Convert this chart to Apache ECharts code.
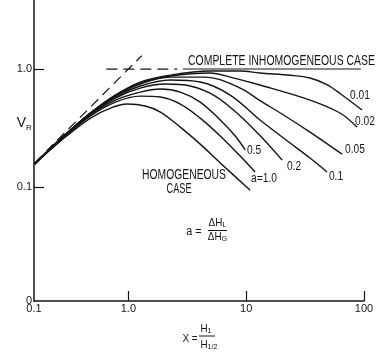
<!DOCTYPE html>
<html><head><meta charset="utf-8">
<script src="https://cdn.jsdelivr.net/npm/echarts@6/dist/echarts.min.js"></script>
<style>html,body{margin:0;padding:0;background:#fff}#c{width:385px;height:358px}</style>
</head><body><div id="c"></div>
<script>
// ---- axis ranges and tick labels ----
const xMin = 0.158, xMax = 100, yMin = 0.0108, yMax = 3.85;
const xLabelValues = [0.158, 1, 10, 100];
const xLabelTexts = ['0.1', '1.0', '10', '100'];
const xTickMarks = [1, 10, 100];
const yLabelValues = [0.0108, 0.1, 1];
const yLabelTexts = ['0', '0.1', '1.0'];
const yTickMarks = [0.1, 1];

// ---- curves (X, V_R) ----
const xHomog = [0.16, 0.265, 0.476, 0.704, 0.98, 1.39, 1.87, 2.76, 4.07, 6.02, 10.8];
const vHomog = [0.157, 0.245, 0.384, 0.467, 0.505, 0.486, 0.432, 0.322, 0.231, 0.160, 0.094];
const xA100 = [0.16, 0.265, 0.476, 0.776, 1.26, 1.87, 2.76, 4.07, 6.02, 8.89, 11.9];
const vA100 = [0.157, 0.25, 0.40, 0.525, 0.59, 0.579, 0.505, 0.384, 0.271, 0.183, 0.134];
const xA050 = [0.16, 0.265, 0.476, 0.776, 1.26, 1.87, 2.76, 4.07, 6.02, 8.07, 9.81];
const vA050 = [0.157, 0.25, 0.408, 0.546, 0.638, 0.677, 0.638, 0.525, 0.370, 0.271, 0.206];
const xA020 = [0.16, 0.265, 0.476, 0.776, 1.26, 2.06, 3.35, 5.46, 8.89, 13.7, 20.2];
const vA020 = [0.157, 0.255, 0.416, 0.568, 0.690, 0.746, 0.718, 0.590, 0.400, 0.260, 0.169];
const xA010 = [0.16, 0.265, 0.476, 0.776, 1.26, 2.27, 4.07, 7.31, 13.1, 23.6, 34.8, 48.6];
const vA010 = [0.157, 0.255, 0.424, 0.579, 0.718, 0.807, 0.776, 0.602, 0.370, 0.236, 0.176, 0.134];
const xA005 = [0.16, 0.265, 0.476, 0.776, 1.26, 2.27, 4.49, 8.89, 13.1, 21.4, 34.8, 65.1];
const vA005 = [0.157, 0.255, 0.424, 0.590, 0.746, 0.855, 0.855, 0.690, 0.54, 0.40, 0.292, 0.190];
const xA002 = [0.16, 0.265, 0.476, 0.776, 1.26, 2.27, 4.95, 7.31, 13.1, 34.8, 62.6, 87.2];
const vA002 = [0.157, 0.255, 0.424, 0.602, 0.761, 0.872, 0.925, 0.855, 0.732, 0.546, 0.424, 0.322];
const xA001 = [0.16, 0.265, 0.476, 0.776, 1.26, 2.27, 4.95, 8.89, 13.1, 24, 34.8, 48, 62.6, 96.2];
const vA001 = [0.157, 0.255, 0.424, 0.602, 0.776, 0.889, 0.962, 0.962, 0.925, 0.885, 0.84, 0.74, 0.62, 0.449];

// ---- reference lines ----
const xDiag = [0.16, 1.3];
const vDiag = [0.16, 1.3];
const xLimitDashed = [0.65, 2.6];
const vLimitDashed = [1, 1];
const xLimitSolid = [2.9, 94];
const vLimitSolid = [1, 1];

const curveNames = ['HOMOGENEOUS CASE', 'a=1.0', '0.5', '0.2', '0.1', '0.05', '0.02', '0.01'];

// ---- build ----
const INK = '#151515';
const FONT = "'Liberation Sans', Arial, sans-serif";
const L = Math.log10;
const pts = (xs, vs) => xs.map((x, i) => [L(x), L(vs[i])]);
const ctx = document.createElement('canvas').getContext('2d');
function tw(t, size) { ctx.font = size + 'px ' + FONT; return ctx.measureText(t).width; }
function T(t, x, y, size, o) {
  o = o || {};
  const al = o.align || 'center';
  return { type: 'text', x: x, y: y, scaleX: o.sx || 1, z: 10,
    style: { text: t, font: size + 'px ' + FONT, fill: INK, align: al, verticalAlign: 'middle',
      textAlign: al, textVerticalAlign: 'middle' } };
}
function fit(t, cx, cy, size, width) { return T(t, cx, cy, size, { sx: width / tw(t, size) }); }
function withSub(main, s, cx, cy, size, subSize, sx, dy) {
  const w1 = tw(main, size) * sx, w2 = tw(s, subSize) * sx;
  const left = cx - (w1 + w2) / 2;
  return [T(main, left, cy, size, { align: 'left', sx: sx }), T(s, left + w1, cy + dy, subSize, { align: 'left', sx: sx })];
}
function hline(x1, x2, y) {
  return { type: 'line', z: 10, shape: { x1: x1, y1: y, x2: x2, y2: y }, style: { stroke: INK, lineWidth: 1 } };
}

const curveData = [[xHomog, vHomog], [xA100, vA100], [xA050, vA050], [xA020, vA020],
  [xA010, vA010], [xA005, vA005], [xA002, vA002], [xA001, vA001]];

const series = curveData.map((c, i) => ({
  name: curveNames[i], type: 'line', data: pts(c[0], c[1]), smooth: 0.35, symbol: 'none',
  lineStyle: { color: INK, width: 1.4 }, silent: true, animation: false
}));
series.push({ type: 'line', data: pts(xDiag, vDiag), symbol: 'none', animation: false,
  lineStyle: { color: INK, width: 1.2, type: [10, 6] } });
series.push({ type: 'line', data: pts(xLimitDashed, vLimitDashed), symbol: 'none', animation: false,
  lineStyle: { color: INK, width: 1.2, type: [11, 6] } });
series.push({ type: 'line', data: pts(xLimitSolid, vLimitSolid), symbol: 'none', animation: false,
  lineStyle: { color: INK, width: 1.1 } });

function lookup(vals, texts) {
  return function (v) {
    for (let i = 0; i < vals.length; i++) if (Math.abs(L(vals[i]) - v) < 1e-6) return texts[i];
    return '';
  };
}

const graphics = [];
graphics.push(T('V', 21.5, 123, 14));
graphics.push(T('R', 26, 128, 8, { align: 'left' }));
graphics.push(fit('COMPLETE INHOMOGENEOUS CASE', 281.5, 61, 14, 187));
const sxl = 0.85;
graphics.push(T(curveNames[7], 360, 96, 12, { sx: sxl }));
graphics.push(T(curveNames[6], 365, 122, 12, { sx: sxl }));
graphics.push(T(curveNames[5], 355, 150, 12, { sx: sxl }));
graphics.push(T(curveNames[4], 336, 177, 12, { sx: sxl }));
graphics.push(T(curveNames[3], 294, 167, 12, { sx: sxl }));
graphics.push(T(curveNames[2], 254, 151, 12, { sx: sxl }));
graphics.push(T(curveNames[1], 264, 179, 12, { sx: sxl }));
graphics.push(fit('HOMOGENEOUS', 184, 175, 14, 84));
graphics.push(fit('CASE', 179, 189, 14, 25));
// alpha formula
graphics.push(T('a =', 194, 231.5, 12, { sx: 0.9 }));
graphics.push(...withSub('ΔH', 'L', 217.5, 223, 11, 8, 0.9, 2));
graphics.push(hline(208, 227, 230.5));
graphics.push(...withSub('ΔH', 'G', 217.5, 236.5, 11, 8, 0.9, 2));
// x title
graphics.push(T('X =', 190, 338.5, 11, { sx: 0.9 }));
graphics.push(...withSub('H', '1', 206, 329, 11, 8, 0.9, 2));
graphics.push(hline(199, 215, 336));
graphics.push(...withSub('H', '1/2', 209, 345, 11, 8, 0.9, 2));

const chart = echarts.init(document.getElementById('c'), null, { renderer: 'canvas' });
chart.setOption({
  animation: false,
  backgroundColor: '#fff',
  grid: { left: 34, right: 21, top: 0, bottom: 57, containLabel: false },
  xAxis: {
    type: 'value', min: L(xMin), max: L(xMax),
    axisLine: { show: true, onZero: false, lineStyle: { color: INK, width: 1.5 } },
    axisTick: { show: true, inside: true, length: 10, customValues: xTickMarks.map(L), lineStyle: { color: INK, width: 1.2 } },
    axisLabel: { customValues: xLabelValues.map(L), formatter: lookup(xLabelValues, xLabelTexts),
      margin: 2, color: INK, fontSize: 11, fontFamily: FONT },
    splitLine: { show: false }
  },
  yAxis: {
    type: 'value', min: L(yMin), max: L(yMax),
    axisLine: { show: true, onZero: false, lineStyle: { color: INK, width: 1.5 } },
    axisTick: { show: true, inside: true, length: 10, customValues: yTickMarks.map(L), lineStyle: { color: INK, width: 1.2 } },
    axisLabel: { customValues: yLabelValues.map(L), formatter: lookup(yLabelValues, yLabelTexts),
      margin: 2, color: INK, fontSize: 11, fontFamily: FONT },
    splitLine: { show: false }
  },
  series: series,
  graphic: graphics
});
</script></body></html>
